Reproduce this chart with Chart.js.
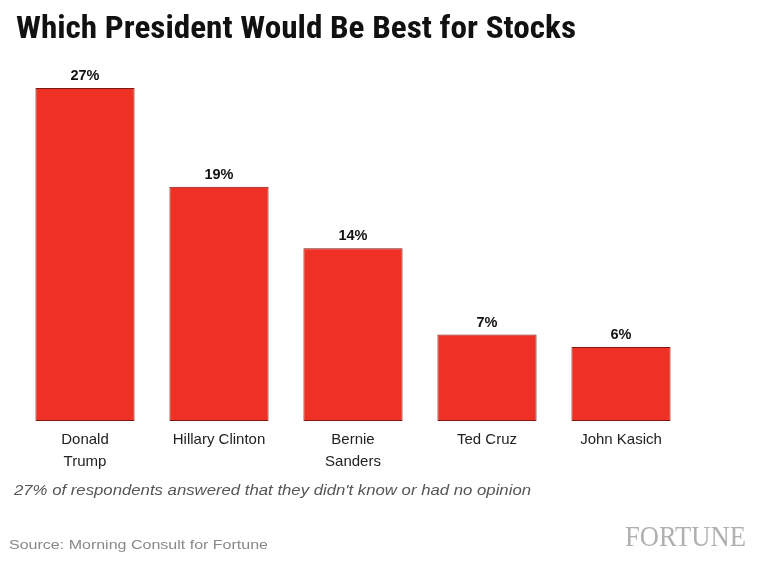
<!DOCTYPE html>
<html><head><meta charset="utf-8">
<script src="https://cdn.jsdelivr.net/npm/chart.js@4/dist/chart.umd.min.js"></script>
<style>html,body{margin:0;padding:0;background:#fff;}#wrap{width:768px;height:563px;position:relative;}</style>
</head><body><div id="wrap"><canvas id="c" width="768" height="563"></canvas></div>
<script>
const categories = [["Donald","Trump"],"Hillary Clinton",["Bernie","Sanders"],"Ted Cruz","John Kasich"];
const values = [27, 19, 14, 7, 6];
const valueLabels = ["27%","19%","14%","7%","6%"];
const titleText = "Which President Would Be Best for Stocks";
const noteText = "27% of respondents answered that they didn't know or had no opinion";
const sourceText = "Source: Morning Consult for Fortune";
const brandText = "FORTUNE";

function fitText(ctx, text, x, y, width) {
  const w = ctx.measureText(text).width;
  ctx.save();
  ctx.translate(x, y);
  ctx.scale(width / w, 1);
  ctx.fillText(text, 0, 0);
  ctx.restore();
}

const textPlugin = {
  id: 'texts',
  afterDraw(chart) {
    const ctx = chart.ctx;
    ctx.save();
    ctx.fillStyle = '#111';
    ctx.textBaseline = 'middle';
    ctx.textAlign = 'left';
    ctx.font = 'bold 32px "Liberation Sans Narrow", "Roboto Condensed", Arial';
    fitText(ctx, titleText, 16, 30, 560);
    // value labels
    const meta = chart.getDatasetMeta(0);
    ctx.font = 'bold 14.5px "Liberation Sans", Arial';
    ctx.textAlign = 'center';
    ctx.fillStyle = '#111';
    meta.data.forEach((bar, i) => {
      ctx.fillText(valueLabels[i], bar.x, bar.y - 12);
    });
    ctx.textAlign = 'left';
    ctx.font = 'italic 15px "Liberation Sans", Arial';
    ctx.fillStyle = '#555';
    fitText(ctx, noteText, 14, 491, 517);
    ctx.font = '13.5px "Liberation Sans", Arial';
    ctx.fillStyle = '#888';
    fitText(ctx, sourceText, 9, 545, 259);
    ctx.font = '29px "Liberation Serif", "Times New Roman", serif';
    ctx.fillStyle = '#b0b0b0';
    fitText(ctx, brandText, 625, 538, 121);
    ctx.restore();
  }
};

new Chart(document.getElementById('c'), {
  type: 'bar',
  data: {
    labels: categories,
    datasets: [{
      data: values,
      backgroundColor: '#ee3124',
      borderColor: '#7e1810',
      borderWidth: 1,
      borderSkipped: false,
      barPercentage: 0.74,
      categoryPercentage: 1.0
    }]
  },
  options: {
    responsive: false,
    animation: false,
    devicePixelRatio: 1,
    layout: { padding: { left: 18, right: 80, top: 51, bottom: 90 } },
    plugins: { legend: { display: false }, tooltip: { enabled: false }, title: { display: false } },
    scales: {
      x: {
        grid: { display: false },
        border: { display: false },
        ticks: { color: '#222', font: { family: '"Liberation Sans", Arial', size: 15, lineHeight: 1.47 }, padding: 0, maxRotation: 0, autoSkip: false }
      },
      y: { display: false, min: 0, max: 30 }
    }
  },
  plugins: [textPlugin]
});
</script>
</body></html>
